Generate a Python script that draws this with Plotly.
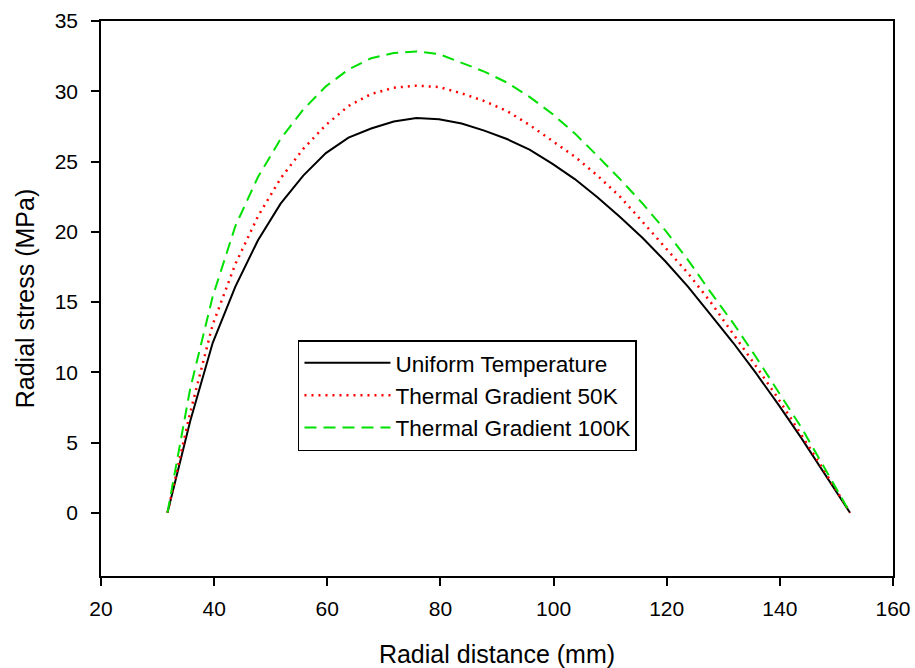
import plotly.graph_objects as go

# radial positions (mm) and radial stress (MPa)
radius = [31.75, 35.75, 39.75, 43.75, 47.75, 51.75, 55.75, 59.75, 63.75, 67.75,
          71.75, 75.75, 79.75, 83.75, 87.75, 91.75, 95.75, 99.75, 103.75, 107.75,
          111.75, 115.75, 119.75, 123.75, 127.75, 131.75, 135.75, 139.75, 143.75,
          147.75, 151.75, 152.4]

uniform = [0.0, 6.5, 12.1, 16.1, 19.4, 22.0, 24.0, 25.6, 26.7, 27.35,
           27.85, 28.1, 28.0, 27.7, 27.2, 26.6, 25.85, 24.85, 23.75, 22.45,
           21.05, 19.55, 17.9, 16.1, 14.1, 12.1, 9.95, 7.7, 5.35,
           2.9, 0.4, 0.0]

grad_50k = [0.0, 7.1, 13.4, 17.7, 21.1, 23.8, 25.9, 27.6, 28.95, 29.8,
            30.25, 30.4, 30.3, 29.85, 29.3, 28.6, 27.6, 26.5, 25.35, 24.0,
            22.5, 20.7, 18.9, 17.05, 15.0, 12.75, 10.45, 8.1, 5.6,
            3.05, 0.45, 0.0]

grad_100k = [0.0, 8.8, 15.4, 20.4, 23.9, 26.6, 28.7, 30.35, 31.55, 32.35,
             32.72, 32.83, 32.65, 32.05, 31.4, 30.62, 29.6, 28.4, 27.0, 25.4,
             23.75, 22.0, 20.1, 18.0, 15.7, 13.5, 11.1, 8.6, 6.1,
             3.3, 0.4, 0.0]

names = ["Uniform Temperature", "Thermal Gradient 50K", "Thermal Gradient 100K"]
x_ticks = [20, 40, 60, 80, 100, 120, 140, 160]
y_ticks = [0, 5, 10, 15, 20, 25, 30, 35]

font = "Liberation Sans, Arial, sans-serif"

fig = go.Figure()
fig.add_trace(go.Scatter(x=radius, y=uniform, mode="lines", name=names[0],
                         line=dict(color="black", width=2)))
fig.add_trace(go.Scatter(x=radius, y=grad_50k, mode="lines", name=names[1],
                         line=dict(color="#ff0000", width=2.5, dash="2px,5px")))
fig.add_trace(go.Scatter(x=radius, y=grad_100k, mode="lines", name=names[2],
                         line=dict(color="#00e000", width=2, dash="12px,7px")))

fig.update_layout(
    width=915, height=668,
    margin=dict(l=101, r=22, t=21, b=92),
    paper_bgcolor="white", plot_bgcolor="white",
    font=dict(family=font, color="black", size=21),
    legend=dict(
        x=0.2487, y=0.425, xanchor="left", yanchor="top",
        bordercolor="black", borderwidth=1.5, bgcolor="white",
        font=dict(size=22.6), itemwidth=86,
    ),
)

fig.update_xaxes(
    range=[20, 160], tickvals=x_ticks, automargin=False,
    showline=True, linecolor="black", linewidth=1.5, mirror=True,
    ticks="outside", ticklen=8, tickcolor="black", tickwidth=1.5,
    ticklabelstandoff=5, showgrid=False, zeroline=False,
    title=dict(text="Radial distance (mm)", font=dict(size=25), standoff=40),
)
fig.update_yaxes(
    range=[-4.5, 35], tickvals=y_ticks, automargin=False,
    showline=True, linecolor="black", linewidth=1.5, mirror=True,
    ticks="outside", ticklen=8, tickcolor="black", tickwidth=1.5,
    ticklabelstandoff=9, showgrid=False, zeroline=False,
    title=dict(text="Radial stress (MPa)", font=dict(size=25), standoff=13),
)

# drop the default 8px page margin so the figure fills the window exactly
fig.write_html("out.html",
               config={"displayModeBar": False},
               post_script="document.body.style.margin='0';"
                           "document.body.style.overflow='hidden';")
